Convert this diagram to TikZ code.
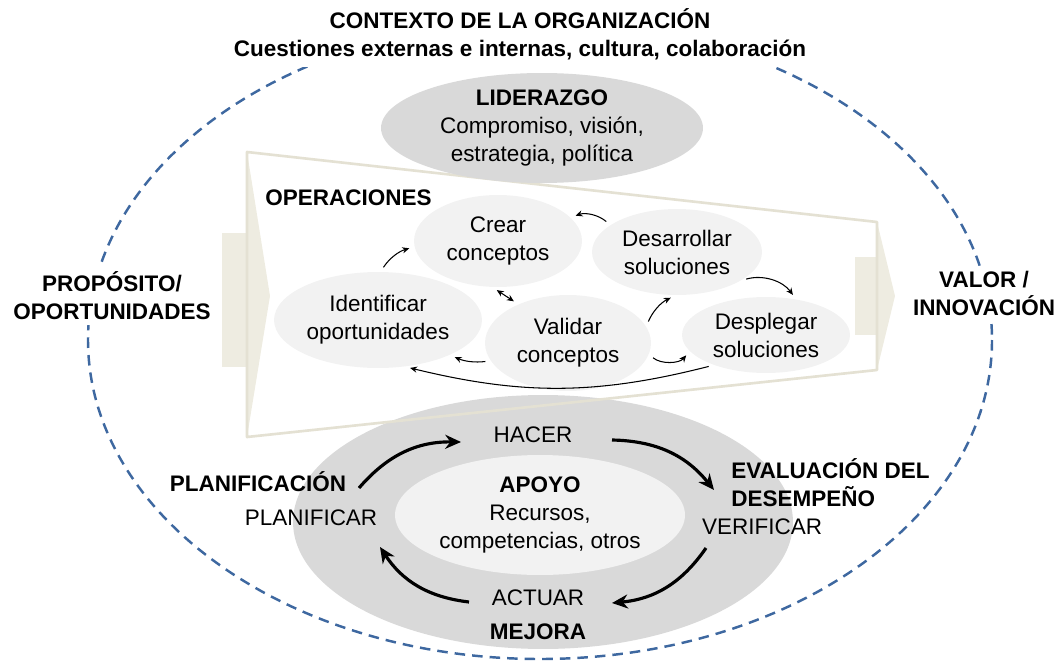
\documentclass[tikz,border=0pt]{standalone}
\usepackage{fontspec}
\setmainfont{Liberation Sans}
\usetikzlibrary{shapes.geometric,arrows.meta}

\definecolor{contextblue}{HTML}{3E68A0}
\definecolor{funneltan}{HTML}{EEECE1}
\definecolor{funnelrim}{HTML}{E4E1D3}
\definecolor{midgray}{HTML}{D9D9D9}
\definecolor{palegray}{HTML}{F2F2F2}
\newcommand{\diagfont}{\fontsize{12.8}{15.9}\selectfont}

\tikzstyle{context line}=[draw,contextblue,line width=1.4pt,dash pattern=on 6pt off 4pt]
\tikzstyle{side text}=[fill=white,inner sep=3pt,align=center,font=\diagfont\bfseries]
\tikzstyle{heading}=[inner sep=0pt,font=\diagfont\bfseries]
\tikzstyle{stage}=[inner sep=0pt]
\tikzstyle{blob}=[ellipse,fill=palegray,inner sep=0pt,align=center]
\tikzstyle{big blob}=[ellipse,fill=midgray,inner sep=0pt,align=center]
\tikzstyle{op edge}=[draw,line width=0.6pt,>={Stealth[length=4pt,width=3.5pt]},->,shorten <=3pt,shorten >=3pt]
\tikzstyle{cycle edge}=[draw,line width=1.8pt,>={Stealth[length=9pt,width=8pt]},->]

\begin{document}
\begin{tikzpicture}[x=0.02cm,y=-0.02cm,font=\diagfont]
	\useasboundingbox (0,0) rectangle (1060,662);
	% Context of the organisation
	\draw[context line] (540,340) ellipse [x radius=452, y radius=319];
	\node[side text,inner sep=4pt] (context) at (520,34) {CONTEXTO DE LA ORGANIZACIÓN\\Cuestiones externas e internas, cultura, colaboración};
	\node[side text] (purpose) at (112,296) {PROPÓSITO/\\OPORTUNIDADES};
	\node[side text] (value) at (984,293) {VALOR /\\INNOVACIÓN};

	% PDCA cycle
	\node[big blob,minimum width=10cm,minimum height=5.08cm] (pdca) at (543,522) {};
	\node[blob,minimum width=5.8cm,minimum height=2.4cm] (support) at (540,515) {\textbf{APOYO}\\Recursos,\\competencias, otros};
	\node[stage] (plan) at (311,518) {PLANIFICAR};
	\node[stage] (do) at (533,435) {HACER};
	\node[stage] (check) at (762,527) {VERIFICAR};
	\node[stage] (act) at (538,598) {ACTUAR};
	\node[heading] (planning) at (258,482) {PLANIFICACIÓN};
	\node[heading,anchor=west,align=left] (evaluation) at (731,483) {EVALUACIÓN DEL\\DESEMPEÑO};
	\node[heading] (improvement) at (538,632) {MEJORA};
	\draw[cycle edge] ([shift={(48,-30)}]plan.center) to[bend left=25] ([shift={(-72,7)}]do.center);
	\draw[cycle edge] ([shift={(79,5)}]do.center) to[bend left=25] ([shift={(-48,-37)}]check.center);
	\draw[cycle edge] ([shift={(-56,21)}]check.center) to[bend left=25] ([shift={(74,5)}]act.center);
	\draw[cycle edge] ([shift={(-69,4)}]act.center) to[bend left=25] ([shift={(69,29)}]plan.center);

	% Operations funnel
	\fill[funneltan] (222,233) rectangle (247,367);
	\fill[funneltan] (247,152) -- (270,296) -- (247,437) -- cycle;
	\fill[funneltan] (855,257) rectangle (877,335);
	\fill[funneltan] (877,222) -- (895,296) -- (877,370) -- cycle;
	\draw[funnelrim,line width=1.5pt,line join=round] (247,152) -- (877,222) -- (877,370) -- (247,437) -- cycle;

	\node[big blob,minimum width=6.44cm,minimum height=2.2cm] (leadership) at (542,128) {\textbf{LIDERAZGO}\\Compromiso, visión,\\estrategia, política};

	\node[heading,anchor=west] (ops) at (265,198) {OPERACIONES};
	\node[blob,minimum width=3.36cm,minimum height=1.84cm] (crear) at (498,241) {Crear\\conceptos};
	\node[blob,minimum width=3.4cm,minimum height=1.72cm] (desarrollar) at (677,252) {Desarrollar\\soluciones};
	\node[blob,minimum width=4.16cm,minimum height=1.92cm] (identificar) at (378,320) {Identificar\\oportunidades};
	\node[blob,minimum width=3.32cm,minimum height=1.92cm] (validar) at (568,343) {Validar\\conceptos};
	\node[blob,minimum width=3.36cm,minimum height=1.52cm] (desplegar) at (766,335) {Desplegar\\soluciones};
	% Connect the operations
	\foreach \source/\dest/\bend in {identificar.87/crear.184/20, validar.12/desarrollar.-92/20, desarrollar.-24/desplegar.50/35, validar.193/identificar.-26/15, desplegar.210/identificar.-60/14}
		\path[op edge] (\source) to[bend left=\bend] (\dest);
	\path[op edge] (desarrollar.158) to[bend right=30] (crear.18);
	\path[op edge,<->] (crear.-97) to (validar.142);
	\path[op edge] (validar.-8) to[out=-40,in=-130] (desplegar.192);
\end{tikzpicture}
\end{document}
